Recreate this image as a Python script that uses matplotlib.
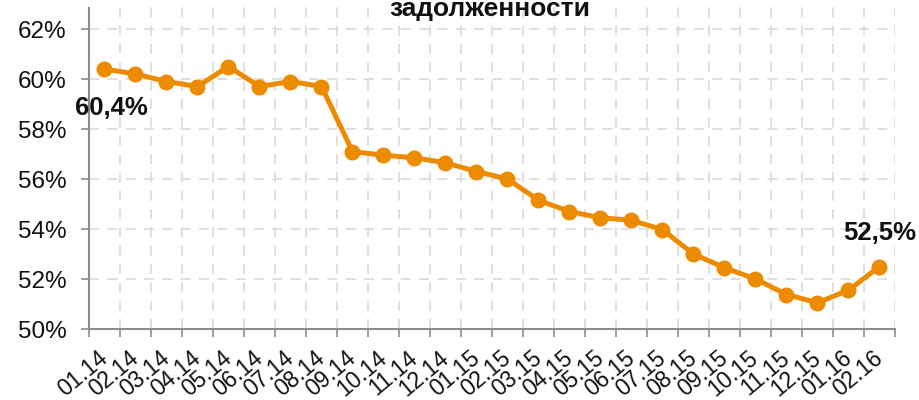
import matplotlib
matplotlib.use("Agg")
import matplotlib.pyplot as plt
from matplotlib.ticker import FixedLocator, FuncFormatter

plt.rcParams['font.family'] = ['Liberation Sans', 'DejaVu Sans']

# data
months = ['01.14', '02.14', '03.14', '04.14', '05.14', '06.14', '07.14', '08.14',
          '09.14', '10.14', '11.14', '12.14', '01.15', '02.15', '03.15', '04.15',
          '05.15', '06.15', '07.15', '08.15', '09.15', '10.15', '11.15', '12.15',
          '01.16', '02.16']
share = [60.4, 60.2, 59.9, 59.7, 60.5, 59.7, 59.9, 59.7, 57.1, 56.95, 56.85, 56.65,
         56.3, 56.0, 55.15, 54.7, 54.45, 54.35, 53.97, 53.0, 52.45, 52.0, 51.38, 51.05,
         51.55, 52.5]
title_text = "задолженности"

orange = '#ED8B00'
axis_grey = '#8C8C8C'

fig = plt.figure(figsize=(9.2, 4.0), dpi=100)
ax = fig.add_axes([89 / 920, 71 / 400, (895 - 89) / 920, 329 / 400])

x = list(range(len(months)))
ax.plot(x, share, color=orange, lw=3.6, marker='o', markersize=10.5,
        markerfacecolor=orange, markeredgecolor=orange, zorder=3, clip_on=False)

ax.set_xlim(-0.5, len(months) - 0.5)
ax.set_ylim(50, 50 + 329 / 25)

# y axis
ax.yaxis.set_major_locator(FixedLocator([50, 52, 54, 56, 58, 60, 62]))
ax.yaxis.set_major_formatter(FuncFormatter(lambda v, p: f"{v:.0f}%"))
ax.tick_params(axis='y', direction='out', length=6, width=1.2, color=axis_grey,
               labelsize=17.5, labelcolor='#111111', pad=10)

# x axis: labels at centers, ticks at boundaries
ax.set_xticks(x)
ax.set_xticklabels(months, rotation=40, ha='right', va='center',
                   rotation_mode='anchor')
ax.set_xticks([i - 0.5 for i in range(len(months) + 1)], minor=True)
ax.tick_params(axis='x', which='major', length=0, labelsize=16.5,
               labelcolor='#111111', pad=19)
ax.tick_params(axis='x', which='minor', direction='out', length=6, width=1.2,
               color=axis_grey)

# grid
ax.grid(False)
for v in [52, 54, 56, 58, 60, 62]:
    ax.axhline(v, color='#D9D9D9', lw=1.2, ls=(0, (6, 5)), zorder=1)
for b in [i + 0.5 for i in range(len(months))]:
    ax.axvline(b, color='#D9D9D9', lw=1.2, ls=(0, (6, 5)), zorder=1)

for side in ['top', 'right']:
    ax.spines[side].set_visible(False)
ax.spines['left'].set_color(axis_grey)
ax.spines['bottom'].set_color(axis_grey)
ax.spines['left'].set_linewidth(1.5)
ax.spines['bottom'].set_linewidth(1.5)
ax.spines['left'].set_bounds(50, 62.86)

# data labels
ax.annotate("60,4%", (0, share[0]), xytext=(5, -28), textcoords='offset points',
            ha='center', va='center', fontsize=18.5, fontweight='bold', color='#111111')
ax.annotate("52,5%", (len(months) - 1, share[-1]), xytext=(0, 24),
            textcoords='offset points', ha='center', va='center', fontsize=18.5,
            fontweight='bold', color='#111111')

fig.text(490 / 920, 1 - 16 / 400, title_text, ha='center', va='baseline',
         fontsize=19, fontweight='bold', color='#111111')

fig.savefig('out.png', dpi=100, facecolor='white')
